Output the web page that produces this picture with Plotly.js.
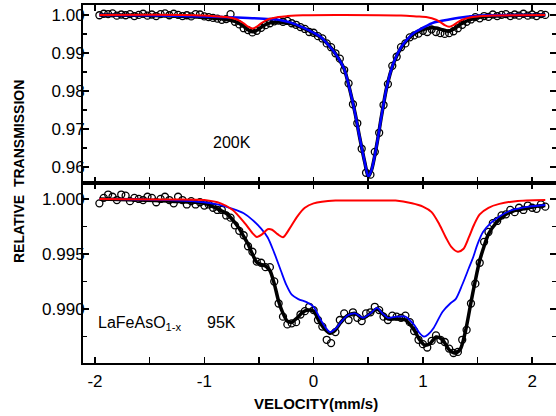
<!DOCTYPE html>
<html>
<head>
<meta charset="utf-8">
<script src="https://cdn.plot.ly/plotly-3.0.1.min.js"></script>
<style>html,body{margin:0;padding:0;background:#fff;}#chart{width:556px;height:416px;}</style>
</head>
<body>
<div id="chart"></div>
<script>
// ---------- 200K (top panel) ----------
const topDataX = [-1.96,-1.92,-1.88,-1.84,-1.80,-1.76,-1.72,-1.68,-1.64,-1.60,-1.56,-1.52,-1.48,-1.44,-1.40,-1.36,-1.32,-1.28,-1.24,-1.20,-1.16,-1.12,-1.08,-1.04,-1.00,-0.96,-0.92,-0.88,-0.84,-0.80,-0.76,-0.72,-0.68,-0.64,-0.60,-0.56,-0.52,-0.48,-0.44,-0.40,-0.36,-0.32,-0.28,-0.24,-0.20,-0.16,-0.12,-0.08,-0.04,0.00,0.04,0.08,0.12,0.16,0.20,0.24,0.28,0.32,0.36,0.40,0.44,0.48,0.52,0.56,0.60,0.64,0.68,0.72,0.76,0.80,0.84,0.88,0.92,0.96,1.00,1.04,1.08,1.12,1.16,1.20,1.24,1.28,1.32,1.36,1.40,1.44,1.48,1.52,1.56,1.60,1.64,1.68,1.72,1.76,1.80,1.84,1.88,1.92,1.96,2.00,2.04,2.08,2.12];
const topDataY = [0.9999,1.0003,1.0002,1.0004,0.9998,1.0001,0.9999,1.0002,0.9997,1.0000,1.0003,0.9998,1.0001,0.9997,1.0002,1.0004,0.9999,1.0003,1.0000,0.9997,0.9999,0.9996,1.0002,1.0001,0.9996,0.9994,0.9992,0.9990,0.9987,0.9989,1.0002,0.9982,0.9975,0.9965,0.9960,0.9954,0.9958,0.9966,0.9973,0.9978,0.9983,0.9985,0.9982,0.9984,0.9978,0.9974,0.9968,0.9963,0.9955,0.9953,0.9944,0.9938,0.9925,0.9915,0.9899,0.9885,0.9855,0.9820,0.9765,0.9715,0.9648,0.9585,0.9580,0.9640,0.9690,0.9763,0.9818,0.9866,0.9890,0.9915,0.9925,0.9941,0.9946,0.9951,0.9958,0.9955,0.9962,0.9955,0.9952,0.9950,0.9952,0.9957,0.9965,0.9974,0.9982,0.9988,0.9994,0.9991,0.9997,0.9995,1.0001,0.9997,1.0000,1.0002,0.9997,1.0001,0.9998,1.0003,0.9998,1.0001,0.9997,1.0002,1.0000];

const topFitX = [-1.96,-1.6,-1.3,-1.1,-1.0,-0.9,-0.8,-0.72,-0.66,-0.61,-0.56,-0.51,-0.46,-0.40,-0.32,-0.24,-0.16,-0.08,0.0,0.06,0.12,0.18,0.24,0.28,0.33,0.38,0.42,0.47,0.50,0.53,0.58,0.62,0.67,0.73,0.80,0.86,0.92,1.00,1.06,1.12,1.18,1.24,1.30,1.36,1.44,1.52,1.64,1.84,2.12];
const topFitY = [1.0000,0.9999,0.9997,0.9995,0.9994,0.9991,0.9988,0.9983,0.9974,0.9963,0.99555,0.9961,0.99715,0.9979,0.9981,0.9979,0.9973,0.9963,0.9952,0.9942,0.9926,0.9906,0.9880,0.9858,0.9805,0.9741,0.9680,0.9610,0.9575,0.9592,0.9662,0.9732,0.9811,0.9872,0.9913,0.9935,0.9950,0.9961,0.99655,0.99655,0.9961,0.9957,0.9966,0.9978,0.9988,0.9994,0.9997,0.9999,1.0000];

const topBlueX = [-1.96,-1.6,-1.2,-1.0,-0.8,-0.6,-0.4,-0.3,-0.2,-0.1,0.0,0.06,0.12,0.18,0.24,0.28,0.33,0.38,0.42,0.47,0.50,0.53,0.58,0.62,0.67,0.73,0.80,0.86,0.92,1.0,1.1,1.24,1.4,1.6,1.84,2.12];
const topBlueY = [1.0000,0.9999,0.9997,0.9996,0.9994,0.9992,0.9989,0.9986,0.9979,0.9967,0.9953,0.9943,0.9926,0.9906,0.9880,0.9858,0.9805,0.9741,0.9680,0.9610,0.9575,0.9592,0.9662,0.9732,0.9811,0.9873,0.9915,0.9937,0.9953,0.9966,0.9980,0.9988,0.9995,0.9999,1.0000,1.0000];

const topRedX = [-1.96,-1.2,-1.0,-0.9,-0.8,-0.72,-0.68,-0.64,-0.60,-0.56,-0.52,-0.48,-0.44,-0.40,-0.32,-0.24,-0.1,0.2,0.8,0.94,1.04,1.12,1.16,1.20,1.24,1.28,1.32,1.36,1.44,1.52,1.64,1.84,2.12];
const topRedY = [1.0000,1.0000,0.99985,0.99965,0.99947,0.99899,0.99852,0.9978,0.9969,0.9964,0.9969,0.9978,0.99852,0.99899,0.99947,0.99968,0.9999,1.0000,0.99985,0.9996,0.99938,0.99873,0.99811,0.99733,0.9969,0.99733,0.99811,0.99873,0.99938,0.99965,0.99982,0.99992,1.0000];

// ---------- 95K (bottom panel) ----------
const botDataX = [-1.96,-1.92,-1.88,-1.84,-1.80,-1.76,-1.72,-1.68,-1.64,-1.60,-1.56,-1.52,-1.48,-1.44,-1.40,-1.36,-1.32,-1.28,-1.24,-1.20,-1.16,-1.12,-1.08,-1.04,-1.00,-0.96,-0.92,-0.88,-0.84,-0.80,-0.76,-0.72,-0.68,-0.64,-0.60,-0.56,-0.52,-0.48,-0.44,-0.40,-0.36,-0.32,-0.28,-0.24,-0.20,-0.16,-0.12,-0.08,-0.04,0.00,0.04,0.08,0.12,0.16,0.20,0.24,0.28,0.32,0.36,0.40,0.44,0.48,0.52,0.56,0.60,0.64,0.68,0.72,0.76,0.80,0.84,0.88,0.92,0.96,1.00,1.04,1.08,1.12,1.16,1.20,1.24,1.28,1.32,1.36,1.40,1.44,1.48,1.52,1.56,1.60,1.64,1.68,1.72,1.76,1.80,1.84,1.88,1.92,1.96,2.00,2.04,2.08,2.12];
const botDataY = [0.9996,1.0001,1.0004,1.0002,0.9999,1.0004,1.0003,0.9998,1.0001,1.0000,0.9999,1.0002,1.0001,0.9997,1.0000,1.0002,0.9999,0.9996,1.0002,0.9999,0.9995,0.9998,0.9995,0.9997,0.9994,0.9995,0.9992,0.9990,0.9990,0.9985,0.9983,0.9976,0.9971,0.9967,0.9957,0.9952,0.9943,0.9942,0.9938,0.9938,0.9925,0.9905,0.9893,0.9886,0.9887,0.9888,0.9895,0.9898,0.9902,0.9899,0.9890,0.9884,0.9872,0.9869,0.9879,0.9890,0.9896,0.9890,0.9897,0.9892,0.9889,0.9896,0.9897,0.9902,0.9899,0.9893,0.9890,0.9894,0.9893,0.9892,0.9894,0.9888,0.9880,0.9872,0.9868,0.9865,0.9871,0.9876,0.9872,0.9870,0.9864,0.9860,0.9861,0.9872,0.9881,0.9905,0.9923,0.9942,0.9961,0.9970,0.9978,0.9980,0.9985,0.9986,0.9990,0.9988,0.9992,0.9990,0.9994,0.9992,0.9991,0.9995,0.9993];

const botFitX = [-1.96,-1.6,-1.3,-1.0,-0.88,-0.80,-0.74,-0.68,-0.64,-0.60,-0.56,-0.52,-0.48,-0.44,-0.40,-0.36,-0.32,-0.28,-0.24,-0.20,-0.15,-0.10,-0.05,0.00,0.05,0.10,0.15,0.20,0.25,0.31,0.38,0.45,0.52,0.58,0.63,0.68,0.76,0.84,0.92,0.97,1.02,1.07,1.12,1.18,1.24,1.29,1.34,1.39,1.44,1.48,1.52,1.56,1.60,1.66,1.74,1.82,1.92,2.02,2.12];
const botFitY = [1.0000,0.9999,0.9998,0.9996,0.9991,0.9987,0.9981,0.9973,0.9966,0.9959,0.9950,0.99425,0.99405,0.9939,0.9935,0.9923,0.9907,0.9896,0.9889,0.9888,0.9892,0.9897,0.9899,0.9898,0.9889,0.9882,0.9878,0.9881,0.9888,0.9894,0.9896,0.98915,0.9896,0.9900,0.9896,0.9891,0.9891,0.9890,0.9881,0.9872,0.9867,0.9869,0.98745,0.9872,0.9863,0.9860,0.9863,0.9880,0.9906,0.9926,0.9944,0.9957,0.9968,0.9977,0.9985,0.9989,0.9991,0.9993,0.9994];

const botBlueX = [-1.96,-1.6,-1.34,-1.0,-0.88,-0.74,-0.64,-0.56,-0.48,-0.42,-0.36,-0.30,-0.25,-0.20,-0.14,-0.06,0.0,0.06,0.11,0.15,0.20,0.25,0.31,0.38,0.45,0.52,0.58,0.63,0.68,0.76,0.84,0.92,0.97,1.01,1.05,1.10,1.18,1.25,1.30,1.36,1.42,1.46,1.50,1.55,1.62,1.67,1.75,1.82,1.97,2.12];
const botBlueY = [1.0000,0.99995,0.9999,0.9997,0.9995,0.9991,0.9987,0.9981,0.9973,0.9965,0.9951,0.9935,0.9922,0.9913,0.9909,0.9906,0.9902,0.9891,0.9883,0.9879,0.9882,0.9888,0.9894,0.9896,0.9892,0.9896,0.9901,0.9896,0.9892,0.9893,0.9893,0.98855,0.9878,0.98748,0.9877,0.9883,0.98975,0.9905,0.9909,0.9922,0.9937,0.9947,0.9959,0.9970,0.9978,0.9982,0.9987,0.9990,0.9993,0.99945];

const botRedX = [-1.96,-1.4,-1.0,-0.85,-0.74,-0.63,-0.56,-0.52,-0.47,-0.42,-0.38,-0.33,-0.28,-0.22,-0.15,-0.08,0.0,0.2,0.5,0.75,0.9,1.0,1.08,1.15,1.21,1.26,1.32,1.37,1.42,1.47,1.52,1.6,1.7,1.85,2.12];
const botRedY = [1.0000,0.99995,0.9999,0.9996,0.9990,0.9978,0.9969,0.99655,0.9968,0.99725,0.99720,0.9968,0.99652,0.9973,0.9984,0.9992,0.9996,0.99985,0.99985,0.99985,0.9996,0.9993,0.9988,0.9977,0.9965,0.99565,0.9952,0.99545,0.9965,0.9977,0.9986,0.9992,0.99955,0.9998,0.9999];

const xTickVals = [-2, -1, 0, 1, 2];
const xTickText = ['-2', '-1', '0', '1', '2'];

const FONT = 'Liberation Sans, Arial, Helvetica, sans-serif';

function dataTrace(x, y, xa, ya) {
  return {x: x, y: y, xaxis: xa, yaxis: ya, mode: 'markers', type: 'scatter',
    marker: {symbol: 'circle-open', size: 7, color: '#000', line: {width: 1.3, color: '#000'}},
    hoverinfo: 'skip', showlegend: false};
}
function lineTrace(x, y, xa, ya, color, width) {
  return {x: x, y: y, xaxis: xa, yaxis: ya, mode: 'lines', type: 'scatter',
    line: {color: color, width: width, shape: 'spline', smoothing: 0.8},
    hoverinfo: 'skip', showlegend: false};
}

const traces = [
  dataTrace(topDataX, topDataY, 'x2', 'y2'),
  lineTrace(topFitX, topFitY, 'x2', 'y2', '#000', 3.5),
  lineTrace(topBlueX, topBlueY, 'x2', 'y2', '#0000ff', 2.5),
  lineTrace(topRedX, topRedY, 'x2', 'y2', '#ff0000', 2),
  dataTrace(botDataX, botDataY, 'x', 'y'),
  lineTrace(botFitX, botFitY, 'x', 'y', '#000', 3.5),
  lineTrace(botBlueX, botBlueY, 'x', 'y', '#0000ff', 1.8),
  lineTrace(botRedX, botRedY, 'x', 'y', '#ff0000', 2)
];

const axisCommon = {
  showline: true, linecolor: '#000', linewidth: 2, mirror: 'ticks',
  ticks: 'inside', ticklen: 6, tickwidth: 1.5, tickcolor: '#000',
  showgrid: false, zeroline: false,
  tickfont: {family: FONT, size: 17, color: '#000'}
};
const xMinor = {tickmode: 'linear', ticks: 'inside', ticklen: 6, tickwidth: 1.5, tickcolor: '#000', dtick: 0.5, tick0: 0, showgrid: false};

const layout = {
  width: 556, height: 416,
  margin: {l: 83, r: 0, t: 5, b: 53},
  paper_bgcolor: '#fff', plot_bgcolor: '#fff',
  font: {family: FONT, color: '#000'},
  showlegend: false,
  xaxis: Object.assign({}, axisCommon, {
    anchor: 'y', range: [-2.11, 2.218], tickmode: 'array',
    tickvals: xTickVals, ticktext: xTickText,
    ticklabelstandoff: 2, minor: xMinor
  }),
  xaxis2: Object.assign({}, axisCommon, {
    anchor: 'y2', matches: 'x', range: [-2.11, 2.218], tickmode: 'array',
    tickvals: xTickVals, ticktext: xTickText,
    showticklabels: false, minor: xMinor
  }),
  yaxis: Object.assign({}, axisCommon, {
    domain: [0, 0.5028], range: [0.98509, 1.00145],
    tickmode: 'linear', tick0: 0.99, dtick: 0.005, tickformat: '.3f',
    ticklabelstandoff: -7,
    minor: {ticks: 'inside', ticklen: 4, tickwidth: 1.5, tickcolor: '#000', dtick: 0.0025, tick0: 0.99, showgrid: false}
  }),
  yaxis2: Object.assign({}, axisCommon, {
    anchor: 'x2', domain: [0.5028, 1], range: [0.9558, 1.0026],
    tickmode: 'linear', tick0: 0.96, dtick: 0.01, tickformat: '.2f',
    ticklabelstandoff: -7,
    minor: {ticks: 'inside', ticklen: 4, tickwidth: 1.5, tickcolor: '#000', dtick: 0.005, tick0: 0.96, showgrid: false}
  }),
  annotations: [
    {text: 'RELATIVE  TRANSMISSION', xref: 'paper', yref: 'paper', x: -0.1353, y: 0.5335,
     xanchor: 'center', yanchor: 'middle', textangle: -90, showarrow: false,
     font: {family: FONT, size: 14, color: '#000', weight: 'bold'}},
    {text: 'VELOCITY(mm/s)', xref: 'paper', yref: 'paper', x: 0.4926, y: -0.1145,
     xanchor: 'center', yanchor: 'middle', showarrow: false,
     font: {family: FONT, size: 15, color: '#000', weight: 'bold'}},
    {text: '200K', xref: 'x2', yref: 'y2', x: -0.747, y: 0.96658,
     xanchor: 'center', yanchor: 'middle', showarrow: false,
     font: {family: FONT, size: 16, color: '#000'}},
    {text: 'LaFeAsO<sub>1-x</sub>', xref: 'x', yref: 'y', x: -1.99, y: 0.98865,
     xanchor: 'left', yanchor: 'middle', showarrow: false,
     font: {family: FONT, size: 16, color: '#000'}},
    {text: '95K', xref: 'x', yref: 'y', x: -0.847, y: 0.98873,
     xanchor: 'center', yanchor: 'middle', showarrow: false,
     font: {family: FONT, size: 16, color: '#000'}}
  ]
};

Plotly.newPlot('chart', traces, layout, {staticPlot: true, displayModeBar: false});
</script>
</body>
</html>
